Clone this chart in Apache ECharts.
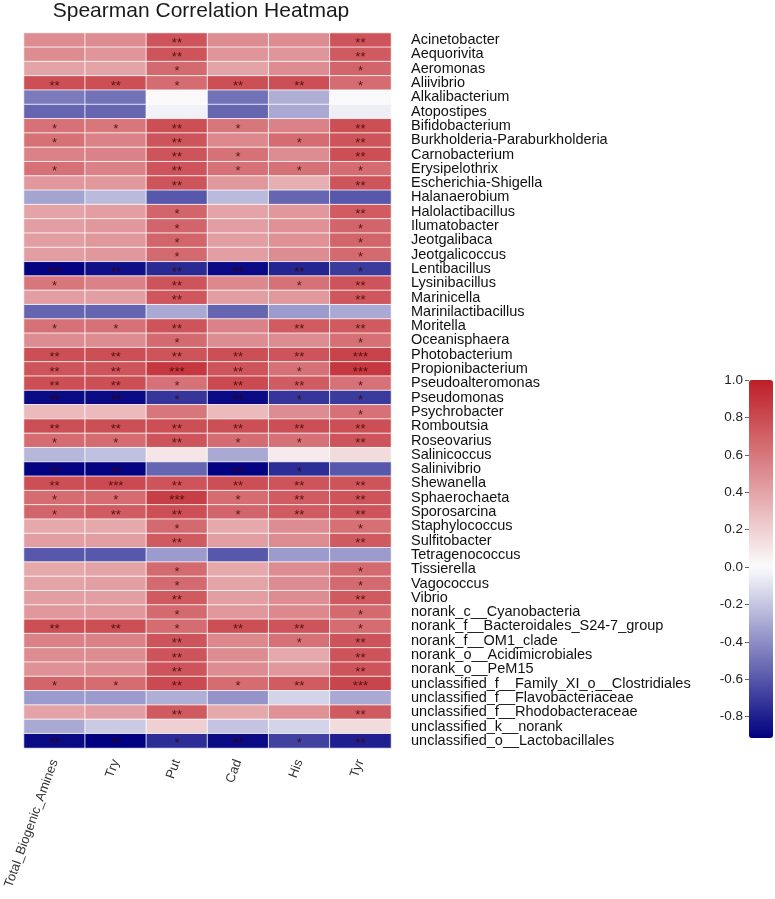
<!DOCTYPE html>
<html><head><meta charset="utf-8">
<script src="https://cdn.jsdelivr.net/npm/echarts@6/dist/echarts.min.js"></script>
<style>html,body{margin:0;padding:0;background:#fff}#c{width:775px;height:899px}</style>
</head><body><div id="c"></div>
<script>
const columns = ["Total_Biogenic_Amines", "Try", "Put", "Cad", "His", "Tyr"];
const genera = [
  "Acinetobacter", "Aequorivita", "Aeromonas", "Aliivibrio", "Alkalibacterium",
  "Atopostipes", "Bifidobacterium", "Burkholderia-Paraburkholderia", "Carnobacterium", "Erysipelothrix",
  "Escherichia-Shigella", "Halanaerobium", "Halolactibacillus", "Ilumatobacter", "Jeotgalibaca",
  "Jeotgalicoccus", "Lentibacillus", "Lysinibacillus", "Marinicella", "Marinilactibacillus",
  "Moritella", "Oceanisphaera", "Photobacterium", "Propionibacterium", "Pseudoalteromonas",
  "Pseudomonas", "Psychrobacter", "Romboutsia", "Roseovarius", "Salinicoccus",
  "Salinivibrio", "Shewanella", "Sphaerochaeta", "Sporosarcina", "Staphylococcus",
  "Sulfitobacter", "Tetragenococcus", "Tissierella", "Vagococcus", "Vibrio",
  "norank_c__Cyanobacteria", "norank_f__Bacteroidales_S24-7_group", "norank_f__OM1_clade", "norank_o__Acidimicrobiales", "norank_o__PeM15",
  "unclassified_f__Family_XI_o__Clostridiales", "unclassified_f__Flavobacteriaceae", "unclassified_f__Rhodobacteraceae", "unclassified_k__norank", "unclassified_o__Lactobacillales"
];
// rho values, one row per genus: Total, Try, Put, Cad, His, Tyr
const rho = [
  [0.50, 0.50, 0.76, 0.50, 0.50, 0.76],
  [0.50, 0.46, 0.76, 0.46, 0.46, 0.73],
  [0.40, 0.40, 0.66, 0.40, 0.50, 0.68],
  [0.78, 0.78, 0.65, 0.78, 0.78, 0.65],
  [-0.47, -0.50, 0.02, -0.50, -0.28, 0.00],
  [-0.55, -0.55, -0.04, -0.55, -0.30, -0.05],
  [0.62, 0.60, 0.78, 0.60, 0.55, 0.78],
  [0.62, 0.55, 0.76, 0.52, 0.65, 0.76],
  [0.55, 0.55, 0.76, 0.62, 0.50, 0.78],
  [0.62, 0.55, 0.76, 0.62, 0.62, 0.65],
  [0.45, 0.45, 0.76, 0.45, 0.35, 0.76],
  [-0.32, -0.24, -0.60, -0.24, -0.55, -0.60],
  [0.40, 0.42, 0.68, 0.40, 0.45, 0.72],
  [0.42, 0.45, 0.68, 0.42, 0.48, 0.68],
  [0.42, 0.45, 0.68, 0.42, 0.48, 0.68],
  [0.42, 0.45, 0.66, 0.42, 0.50, 0.66],
  [-0.90, -0.86, -0.76, -0.88, -0.78, -0.70],
  [0.60, 0.55, 0.76, 0.52, 0.62, 0.76],
  [0.42, 0.42, 0.75, 0.42, 0.45, 0.75],
  [-0.55, -0.55, -0.30, -0.55, -0.35, -0.30],
  [0.62, 0.62, 0.76, 0.55, 0.72, 0.73],
  [0.50, 0.50, 0.66, 0.50, 0.50, 0.63],
  [0.78, 0.78, 0.76, 0.78, 0.76, 0.83],
  [0.76, 0.76, 0.88, 0.76, 0.62, 0.88],
  [0.78, 0.78, 0.62, 0.80, 0.72, 0.62],
  [-0.88, -0.88, -0.72, -0.88, -0.72, -0.70],
  [0.30, 0.30, 0.60, 0.30, 0.50, 0.62],
  [0.78, 0.78, 0.78, 0.78, 0.78, 0.78],
  [0.65, 0.65, 0.76, 0.65, 0.62, 0.76],
  [-0.25, -0.22, 0.10, -0.30, 0.08, 0.15],
  [-0.90, -0.90, -0.55, -0.90, -0.75, -0.60],
  [0.78, 0.80, 0.76, 0.78, 0.76, 0.76],
  [0.65, 0.65, 0.85, 0.65, 0.72, 0.76],
  [0.68, 0.72, 0.78, 0.68, 0.72, 0.76],
  [0.38, 0.38, 0.66, 0.38, 0.50, 0.63],
  [0.42, 0.42, 0.73, 0.42, 0.50, 0.73],
  [-0.60, -0.60, -0.35, -0.60, -0.35, -0.35],
  [0.38, 0.40, 0.66, 0.38, 0.50, 0.66],
  [0.40, 0.42, 0.66, 0.40, 0.50, 0.66],
  [0.42, 0.42, 0.73, 0.42, 0.50, 0.73],
  [0.45, 0.45, 0.66, 0.45, 0.52, 0.66],
  [0.78, 0.78, 0.65, 0.78, 0.76, 0.65],
  [0.55, 0.55, 0.76, 0.52, 0.62, 0.76],
  [0.50, 0.50, 0.76, 0.50, 0.38, 0.76],
  [0.48, 0.50, 0.76, 0.50, 0.45, 0.76],
  [0.68, 0.65, 0.80, 0.65, 0.72, 0.82],
  [-0.35, -0.35, -0.28, -0.38, -0.15, -0.30],
  [0.40, 0.42, 0.73, 0.38, 0.48, 0.73],
  [-0.30, -0.18, 0.20, -0.20, -0.15, 0.15],
  [-0.88, -0.92, -0.75, -0.88, -0.68, -0.80]
];
// significance marks, same layout as rho
const sig = [
  ["", "", "**", "", "", "**"],
  ["", "", "**", "", "", "**"],
  ["", "", "*", "", "", "*"],
  ["**", "**", "*", "**", "**", "*"],
  ["", "", "", "", "", ""],
  ["", "", "", "", "", ""],
  ["*", "*", "**", "*", "", "**"],
  ["*", "", "**", "", "*", "**"],
  ["", "", "**", "*", "", "**"],
  ["*", "", "**", "*", "*", "*"],
  ["", "", "**", "", "", "**"],
  ["", "", "", "", "", ""],
  ["", "", "*", "", "", "**"],
  ["", "", "*", "", "", "*"],
  ["", "", "*", "", "", "*"],
  ["", "", "*", "", "", "*"],
  ["***", "**", "**", "**", "**", "*"],
  ["*", "", "**", "", "*", "**"],
  ["", "", "**", "", "", "**"],
  ["", "", "", "", "", ""],
  ["*", "*", "**", "", "**", "**"],
  ["", "", "*", "", "", "*"],
  ["**", "**", "**", "**", "**", "***"],
  ["**", "**", "***", "**", "*", "***"],
  ["**", "**", "*", "**", "**", "*"],
  ["**", "**", "*", "**", "*", "*"],
  ["", "", "", "", "", "*"],
  ["**", "**", "**", "**", "**", "**"],
  ["*", "*", "**", "*", "*", "**"],
  ["", "", "", "", "", ""],
  ["**", "**", "", "**", "*", ""],
  ["**", "***", "**", "**", "**", "**"],
  ["*", "*", "***", "*", "**", "**"],
  ["*", "**", "**", "*", "**", "**"],
  ["", "", "*", "", "", "*"],
  ["", "", "**", "", "", "**"],
  ["", "", "", "", "", ""],
  ["", "", "*", "", "", "*"],
  ["", "", "*", "", "", "*"],
  ["", "", "**", "", "", "**"],
  ["", "", "*", "", "", "*"],
  ["**", "**", "*", "**", "**", "*"],
  ["", "", "**", "", "*", "**"],
  ["", "", "**", "", "", "**"],
  ["", "", "**", "", "", "**"],
  ["*", "*", "**", "*", "**", "***"],
  ["", "", "", "", "", ""],
  ["", "", "**", "", "", "**"],
  ["", "", "", "", "", ""],
  ["**", "**", "*", "**", "*", "**"]
];
const colorTicks = [-0.8, -0.6, -0.4, -0.2, 0.0, 0.2, 0.4, 0.6, 0.8, 1.0];
const scaleMin = -0.914, scaleMax = 1.0;

// navy - white - firebrick colour ramp, white at 0
function rampColor(v) {
  const lo = [0, 0, 128], mid = [252, 252, 253], hi = [190, 30, 38];
  let a, b, t;
  if (v < 0) { a = mid; b = lo; t = v / scaleMin; } else { a = mid; b = hi; t = v / scaleMax; }
  const c = a.map((x, k) => Math.round(x + (b[k] - x) * t));
  return 'rgb(' + c.join(',') + ')';
}
const rampStops = [];
for (let k = 0; k <= 60; k++) rampStops.push(rampColor(scaleMin + (scaleMax - scaleMin) * k / 60));

const data = [];
rho.forEach((row, i) => row.forEach((v, j) => data.push([j, i, v])));

const chart = echarts.init(document.getElementById('c'), null, { renderer: 'canvas' });
const FONT = 'Liberation Sans, Arial, sans-serif';
chart.setOption({
  animation: false,
  backgroundColor: '#fff',
  title: {
    text: 'Spearman Correlation Heatmap',
    left: 201, top: 1, padding: 0, textAlign: 'center',
    textStyle: { fontFamily: FONT, fontSize: 21, fontWeight: 'normal', color: '#1a1a1a' }
  },
  grid: [
    { left: 24, top: 33, width: 367, height: 715, outerBoundsMode: 'none', containLabel: false },
    { left: 749, top: 380, width: 24, height: 358, outerBoundsMode: 'none', containLabel: false }
  ],
  xAxis: [
    {
      type: 'category', data: columns, gridIndex: 0, position: 'bottom',
      axisLine: { show: false }, axisTick: { show: false }, splitLine: { show: false },
      axisLabel: { interval: 0, rotate: 70, margin: 12, fontFamily: FONT, fontSize: 13, color: '#333' }
    },
    { type: 'value', gridIndex: 1, show: false, min: 0, max: 1 }
  ],
  yAxis: [
    {
      type: 'category', data: genera, gridIndex: 0, inverse: true, position: 'right',
      axisLine: { show: false }, axisTick: { show: false }, splitLine: { show: false },
      axisLabel: { interval: 0, margin: 20, fontFamily: FONT, fontSize: 14.5, color: '#111' }
    },
    {
      type: 'value', gridIndex: 1, position: 'left', min: scaleMin, max: scaleMax,
      axisLine: { show: false }, splitLine: { show: false },
      axisTick: { show: true, length: 4, lineStyle: { color: '#666' }, customValues: colorTicks },
      axisLabel: {
        margin: 6, fontFamily: FONT, fontSize: 13.5, color: '#222', customValues: colorTicks,
        formatter: v => Number(v).toFixed(1)
      }
    }
  ],
  visualMap: {
    type: 'continuous', min: scaleMin, max: scaleMax, calculable: false,
    orient: 'vertical', left: 749, top: 380, itemWidth: 24, itemHeight: 358,
    padding: 0, text: ['', ''], showLabel: false, realtime: false,
    seriesIndex: 0,
    inRange: { color: rampStops }
  },
  series: [{
    type: 'heatmap', xAxisIndex: 0, yAxisIndex: 0, data: data,
    itemStyle: { borderColor: 'rgba(255,255,255,0.8)', borderWidth: 1 },
    label: {
      show: true, fontSize: 13, fontFamily: FONT, color: 'rgba(60,0,0,0.8)',
      offset: [0, 3],
      formatter: p => sig[p.data[1]][p.data[0]]
    },
    emphasis: { disabled: true }
  }]
});
</script>
</body></html>
